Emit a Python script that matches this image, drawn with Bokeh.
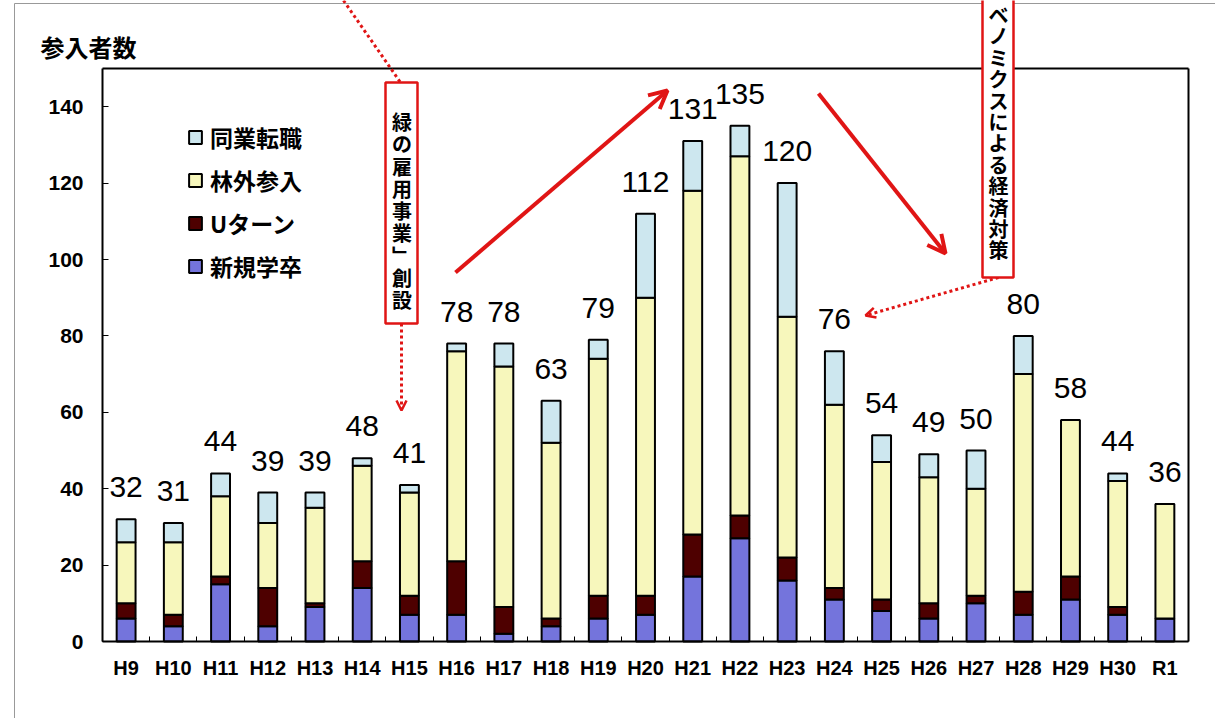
from bokeh.plotting import figure
from bokeh.models import (FixedTicker, Label, Arrow, OpenHead, Legend, LegendItem,
                          ColumnDataSource, BoxAnnotation)
from bokeh.core.properties import value
from bokeh.embed import file_html
from bokeh.resources import INLINE

years = ["H9", "H10", "H11", "H12", "H13", "H14", "H15", "H16", "H17", "H18", "H19",
         "H20", "H21", "H22", "H23", "H24", "H25", "H26", "H27", "H28", "H29", "H30", "R1"]
shinki = [6, 4, 15, 4, 9, 14, 7, 7, 2, 4, 6, 7, 17, 27, 16, 11, 8, 6, 10, 7, 11, 7, 6]
uturn = [4, 3, 2, 10, 1, 7, 5, 14, 7, 2, 6, 5, 11, 6, 6, 3, 3, 4, 2, 6, 6, 2, 0]
ringai = [16, 19, 21, 17, 25, 25, 27, 55, 63, 46, 62, 78, 90, 94, 63, 48, 36, 33, 28, 57, 41, 33, 30]
dougyou = [6, 5, 6, 8, 4, 2, 2, 2, 6, 11, 5, 22, 13, 8, 35, 14, 7, 6, 10, 10, 0, 2, 0]
totals = [32, 31, 44, 39, 39, 48, 41, 78, 78, 63, 79, 112, 131, 135, 120, 76, 54, 49, 50, 80, 58, 44, 36]
y_ticks = [0, 20, 40, 60, 80, 100, 120, 140]
y_max = 150
series_names = ["新規学卒", "Uターン", "林外参入", "同業転職"]
series_colors = ["#7474DC", "#4E0000", "#F7F7BC", "#CDE7EF"]
title_text = "参入者数"
note1 = "緑の雇用事業﹂創設"
note2 = "ベノミクスによる経済対策"

# layout (canvas pixels): plot area box
W, H = 1215, 718
FL, FR, FT, FB = 102, 1188, 68, 641
n = len(years)
PX = (FR - FL) / n
PY = (FB - FT) / y_max

xs = list(range(n))
src = ColumnDataSource(dict(x=xs, shinki=shinki, uturn=uturn, ringai=ringai,
                            dougyou=dougyou, total=totals,
                            lab=[str(t) for t in totals]))

p = figure(width=W, height=H, output_backend="svg", toolbar_location=None,
           x_range=(-0.5 - FL / PX, -0.5 + (W - FL) / PX),
           y_range=(-(H - FB) / PY, FB / PY),
           min_border_left=0, min_border_right=0, min_border_top=0, min_border_bottom=0)
p.grid.visible = False
p.outline_line_color = None
p.background_fill_color = "white"
p.border_fill_color = "white"

renderers = p.vbar_stack(["shinki", "uturn", "ringai", "dougyou"], x="x", width=0.4,
                         source=src, color=series_colors, line_color="black", line_width=2)

p.text(x="x", y="total", text="lab", source=src, text_align="center",
       text_baseline="alphabetic", y_offset=-32, text_font=value("Liberation Sans"),
       text_font_size="30px", text_color="black")

# plot-area frame (top and right edges)
p.segment(x0=[-0.5, n - 0.5], y0=[y_max, 0], x1=[n - 0.5, n - 0.5], y1=[y_max, y_max],
          line_color="black", line_width=2)

# axes, pinned to the plot-area edges
p.xaxis.fixed_location = 0
p.xaxis.bounds = (-0.5, n - 0.5)
p.xaxis.ticker = FixedTicker(ticks=xs, minor_ticks=[i - 0.5 for i in range(n + 1)])
p.xaxis.major_label_overrides = {i: y for i, y in enumerate(years)}
p.xaxis.major_tick_line_color = None
p.xaxis.major_tick_in = 0
p.xaxis.major_tick_out = 0
p.xaxis.minor_tick_in = 5
p.xaxis.minor_tick_out = 0
p.xaxis.minor_tick_line_color = "black"
p.xaxis.axis_line_width = 2
p.xaxis.major_label_standoff = 15
p.xaxis.major_label_text_font = "Liberation Sans"
p.xaxis.major_label_text_font_style = "bold"
p.xaxis.major_label_text_font_size = "20px"
p.xaxis.major_label_text_color = "black"

p.yaxis.fixed_location = -0.5
p.yaxis.bounds = (0, y_max)
p.yaxis.ticker = FixedTicker(ticks=y_ticks, minor_ticks=[])
p.yaxis.major_tick_in = 6
p.yaxis.major_tick_out = 0
p.yaxis.axis_line_width = 2
p.yaxis.major_label_standoff = 19
p.yaxis.major_label_text_font = "Liberation Sans"
p.yaxis.major_label_text_font_style = "bold"
p.yaxis.major_label_text_font_size = "21px"
p.yaxis.major_label_text_color = "black"

p.add_layout(Label(x=40, y=46, x_units="canvas", y_units="canvas", text=title_text,
                   text_align="left", text_baseline="middle", text_font="Noto Sans CJK JP",
                   text_font_size="24px", text_font_style="bold", text_color="black"))

legend = Legend(items=[LegendItem(label=series_names[i], renderers=[renderers[i]])
                       for i in [3, 2, 1, 0]],
                location=(FL + 85, H - FB + 358), padding=0, margin=0, spacing=9,
                glyph_width=16, glyph_height=16, label_height=20, label_standoff=7,
                border_line_color=None, background_fill_alpha=0,
                label_text_font="Noto Sans CJK JP", label_text_font_size="23px",
                label_text_font_style="bold", label_text_color="black")
p.add_layout(legend)

# annotations (canvas pixel units)
red = "#E01515"
def seg(x0, y0, x1, y1, color=red, width=3, dash="solid", head=None):
    p.add_layout(Arrow(x_start=x0, y_start=y0, x_end=x1, y_end=y1,
                       start_units="canvas", end_units="canvas",
                       line_color=color, line_width=width, line_dash=dash, end=head))

seg(14, 3, W, 3, color="#999999", width=1)
seg(14, 3, 14, H, color="#999999", width=1)
seg(455, 272, 667, 90, width=4, head=OpenHead(line_color=red, line_width=4, size=18))
seg(818, 93, 945, 253, width=4, head=OpenHead(line_color=red, line_width=4, size=18))
seg(343, 0, 400, 82, dash="3 3")
seg(401, 323, 401, 410, dash="3 3", head=OpenHead(line_color=red, line_width=2.5, size=10))
seg(998, 277, 865, 315, dash="3 3", head=OpenHead(line_color=red, line_width=2.5, size=10))

for (l, r, t, b) in [(385, 417, 82, 323), (982, 1013, -5, 277)]:
    p.add_layout(BoxAnnotation(left=l, right=r, top=t, bottom=b,
                               left_units="canvas", right_units="canvas",
                               top_units="canvas", bottom_units="canvas",
                               fill_color="white", fill_alpha=1,
                               line_color=red, line_alpha=1, line_width=2.5, level="overlay"))

for note, cx, cy0, pitch in [(note1, 401.5, 121, 22.25), (note2, 998, 14, 21.4)]:
    for k, ch in enumerate(note):
        p.add_layout(Label(x=cx, y=cy0 + k * pitch, x_units="canvas", y_units="canvas",
                           text=ch, text_align="center", text_baseline="middle",
                           text_font="Noto Sans CJK JP", text_font_size="20px",
                           text_font_style="bold", text_color="black", level="overlay"))

open("out.html", "w").write(file_html(p, INLINE))
